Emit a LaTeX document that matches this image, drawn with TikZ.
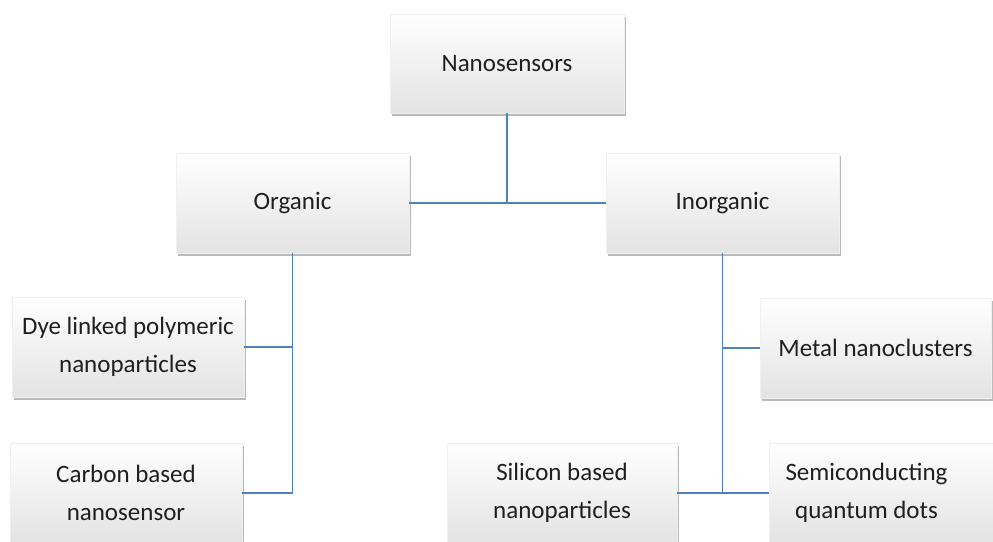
\documentclass[tikz,border=0pt]{standalone}
\usepackage{fontspec}
\setmainfont{Carlito}
\usetikzlibrary{shadows}
\definecolor{linkblue}{RGB}{79,129,189}
\tikzset{
  catbox/.style={rectangle, draw=gray!12, line width=0.6pt,
    top color=white, middle color=white, bottom color=gray!22,
    minimum width=233pt, minimum height=100pt, align=center,
    font=\fontsize{25}{38}\selectfont, text=black!88,
    drop shadow={shadow xshift=2pt, shadow yshift=-3pt, opacity=0.45, fill=black!60}},
  link/.style={draw=linkblue, line width=1.2pt}
}
\begin{document}
\begin{tikzpicture}[x=1pt, y=-1pt]
  \useasboundingbox (0,0) rectangle (993,541);
  \clip (0,0) rectangle (993,541);

  % boxes
  \node[catbox, minimum width=234pt, minimum height=99pt] (root) at (507,63.5) {Nanosensors};
  \node[catbox] (org) at (292.5,203) {Organic};
  \node[catbox] (inorg) at (722.5,203) {Inorganic};
  \node[catbox, minimum width=232pt] (dye) at (128,347) {Dye linked polymeric\\nanoparticles};
  \node[catbox, minimum width=232pt] (carbon) at (126,493) {Carbon based\\nanosensor};
  \node[catbox, minimum width=231pt] (metal) at (875.5,348) {Metal nanoclusters};
  \node[catbox, minimum width=230pt] (silicon) at (562,493) {Silicon based\\nanoparticles};
  \node[catbox, label={[font=\fontsize{25}{38}\selectfont, text=black!88, align=center, xshift=-19pt]center:Semiconducting\\quantum dots}] (semi) at (885.5,493) {};

  % junction points
  \coordinate (rootj) at (root.south |- org.east);
  \coordinate (orgd) at (org.south |- dye.east);
  \coordinate (orgc) at (org.south |- carbon.east);
  \coordinate (inorgm) at (inorg.south |- metal.west);
  \coordinate (inorgb) at (inorg.south |- silicon.east);

  % connectors
  \draw[link] (root.south) -- (rootj);
  \draw[link] (org.east) -- (inorg.west);
  \draw[link] (org.south) -- (orgc) -- (carbon.east);
  \draw[link] (orgd) -- (dye.east);
  \draw[link] (inorg.south) -- (inorgb);
  \draw[link] (inorgm) -- (metal.west);
  \draw[link] (silicon.east) -- (semi.west);
\end{tikzpicture}
\end{document}
